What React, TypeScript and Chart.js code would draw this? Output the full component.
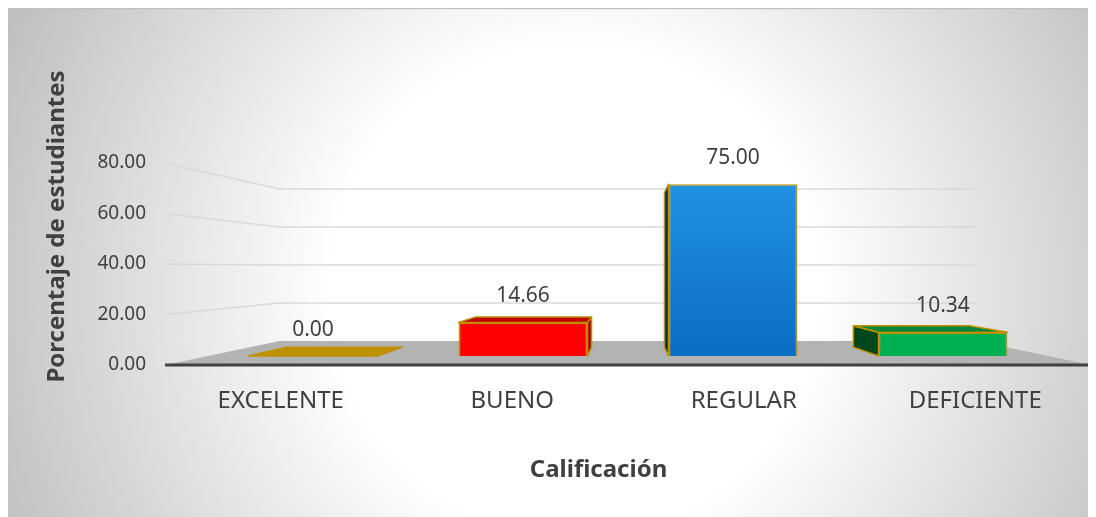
import React, { useEffect, useRef } from "react";
import { Chart, registerables } from "chart.js";

Chart.register(...registerables);

// ---------- data ----------
const categories = ["EXCELENTE", "BUENO", "REGULAR", "DEFICIENTE"];
const values = [0.0, 14.66, 75.0, 10.34];
const yMin = 0;
const yMax = 80;
const yStep = 20;
const yTitle = "Porcentaje de estudiantes";
const xTitle = "Calificación";

// ---------- styles ----------
const frontColors = ["#BF9000", "#FF0000", "#1A86D9", "#00B050"];
const topColors = ["#BF9000", "#C00000", "#0F5E9C", "#00853C"];
const sideColors = ["#7F6000", "#B00000", "#0B3043", "#00461F"];
const edgeColor = "#BF9000";
const textColor = "#404040";
const FONT = "'Noto Sans', 'Open Sans', sans-serif";

const CANVAS_W = 1088;
const CANVAS_H = 509;
const AREA_LEFT = 157;
const AREA_RIGHT = 1083;
const AREA_TOP = 155;
const AREA_BOTTOM = 357;
const VP_Y = 260;
const S_WALL = 0.753;
const S_FRONT = 0.907;
const S_BACK = 0.816;

function poly(ctx: CanvasRenderingContext2D, pts: number[][], fill: string, stroke: string, lw: number) {
  ctx.beginPath();
  ctx.moveTo(pts[0][0], pts[0][1]);
  for (let i = 1; i < pts.length; i++) ctx.lineTo(pts[i][0], pts[i][1]);
  ctx.closePath();
  ctx.fillStyle = fill;
  ctx.fill();
  if (lw > 0) {
    ctx.strokeStyle = stroke;
    ctx.lineWidth = lw;
    ctx.lineJoin = "round";
    ctx.stroke();
  }
}

export default function App() {
  const ref = useRef<HTMLCanvasElement>(null);

  useEffect(() => {
    const canvas = ref.current;
    if (!canvas) return;

    const vpOf = (chart: any) => {
      const a = chart.chartArea;
      return { vx: (a.left + a.right) / 2, vy: VP_Y };
    };

    const threeD = {
      id: "threeD",
      beforeDraw(chart: any) {
        const ctx: CanvasRenderingContext2D = chart.ctx;
        ctx.save();
        const g = ctx.createRadialGradient(567, 282, 0, 567, 282, 640);
        g.addColorStop(0, "#ffffff");
        g.addColorStop(0.38, "#ffffff");
        g.addColorStop(1, "#bdbdbd");
        ctx.fillStyle = g;
        ctx.fillRect(0, 0, chart.width, chart.height);
        ctx.fillStyle = "#c0c0c0";
        ctx.fillRect(0, 0, chart.width, 1.2);
        ctx.restore();
      },
      beforeDatasetsDraw(chart: any) {
        const ctx: CanvasRenderingContext2D = chart.ctx;
        const a = chart.chartArea;
        const ys = chart.scales.y;
        const { vx, vy } = vpOf(chart);
        const P = (px: number, py: number, s: number) => [vx + (px - vx) * s, vy + (py - vy) * s];

        ctx.save();
        // back wall + side wall gridlines
        ctx.strokeStyle = "#d9d9d9";
        ctx.lineWidth = 1.5;
        for (let v = yMin + yStep; v <= yMax; v += yStep) {
          const yf = ys.getPixelForValue(v);
          const p1 = P(a.left, yf, 1);
          const p2 = P(a.left, yf, S_WALL);
          const p3 = P(a.right, yf, S_WALL);
          ctx.beginPath();
          ctx.moveTo(p1[0], p1[1]);
          ctx.lineTo(p2[0], p2[1]);
          ctx.lineTo(p3[0], p3[1]);
          ctx.stroke();
        }
        // floor
        const y0 = ys.getPixelForValue(yMin);
        poly(ctx, [P(a.left, y0, 1), P(a.right, y0, 1), P(a.right, y0, S_WALL), P(a.left, y0, S_WALL)], "#b3b3b3", "#b3b3b3", 0);
        // front axis line
        ctx.strokeStyle = "#404040";
        ctx.lineWidth = 3;
        ctx.beginPath();
        ctx.moveTo(a.left, y0);
        ctx.lineTo(a.right, y0);
        ctx.stroke();

        // bar sides and tops
        const meta = chart.getDatasetMeta(0);
        meta.data.forEach((el: any, i: number) => {
          const { x, y, base, width } = el.getProps(["x", "y", "base", "width"], true);
          const L = x - width / 2;
          const R = x + width / 2;
          const T = Math.min(y, base);
          const B = Math.max(y, base);
          if (B - T > 0.5) {
            if (L > vx) {
              poly(ctx, [P(L, T, S_FRONT), P(L, B, S_FRONT), P(L, B, S_BACK), P(L, T, S_BACK)], sideColors[i], edgeColor, 1.5);
            } else if (R < vx) {
              poly(ctx, [P(R, T, S_FRONT), P(R, B, S_FRONT), P(R, B, S_BACK), P(R, T, S_BACK)], sideColors[i], edgeColor, 1.5);
            }
          }
          if (T > vy) {
            poly(ctx, [P(L, T, S_FRONT), P(R, T, S_FRONT), P(R, T, S_BACK), P(L, T, S_BACK)], topColors[i], edgeColor, 1.5);
          }
        });
        ctx.restore();

        // front faces drawn by Chart.js at the bar depth
        ctx.save();
        ctx.translate(vx, vy);
        ctx.scale(S_FRONT, S_FRONT);
        ctx.translate(-vx, -vy);
      },
      afterDatasetsDraw(chart: any) {
        const ctx: CanvasRenderingContext2D = chart.ctx;
        ctx.restore();
        const { vx, vy } = vpOf(chart);
        const P = (px: number, py: number, s: number) => [vx + (px - vx) * s, vy + (py - vy) * s];
        const meta = chart.getDatasetMeta(0);
        ctx.save();
        ctx.font = `21px ${FONT}`;
        ctx.fillStyle = textColor;
        ctx.textAlign = "center";
        ctx.textBaseline = "middle";
        meta.data.forEach((el: any, i: number) => {
          const { x, y, base } = el.getProps(["x", "y", "base"], true);
          const T = Math.min(y, base);
          const p = P(x, T, S_FRONT);
          ctx.fillText(values[i].toFixed(2), p[0], p[1] - 26);
        });
        ctx.restore();
      },
      afterDraw(chart: any) {
        const ctx: CanvasRenderingContext2D = chart.ctx;
        ctx.save();
        ctx.font = `bold 24px ${FONT}`;
        ctx.fillStyle = textColor;
        ctx.textAlign = "center";
        ctx.textBaseline = "middle";
        ctx.fillText(xTitle, 590.5, 462);
        ctx.translate(49, 218.5);
        ctx.rotate(-Math.PI / 2);
        ctx.fillText(yTitle, 0, 0);
        ctx.restore();
      },
    };

    const chart = new Chart(canvas, {
      type: "bar",
      data: {
        labels: categories,
        datasets: [
          {
            data: values,
            backgroundColor: (c: any) => {
              const i = c.dataIndex;
              if (i === 2 && c.chart.chartArea) {
                const a = c.chart.chartArea;
                const g = c.chart.ctx.createLinearGradient(0, a.top, 0, a.bottom);
                g.addColorStop(0, "#2393E4");
                g.addColorStop(1, "#0A6EC2");
                return g;
              }
              return frontColors[i];
            },
            borderColor: edgeColor,
            borderWidth: 1.8,
            categoryPercentage: 1,
            barPercentage: 0.614,
          },
        ],
      },
      options: {
        responsive: false,
        animation: false,
        devicePixelRatio: 1,
        layout: { padding: { top: AREA_TOP, right: CANVAS_W - AREA_RIGHT, left: 0, bottom: 0 } },
        plugins: { legend: { display: false }, tooltip: { enabled: false } },
        scales: {
          x: {
            grid: { display: false, drawTicks: false },
            border: { display: false },
            ticks: { font: { family: FONT, size: 24 }, color: textColor, padding: 22, maxRotation: 0 },
            afterFit: (s: any) => {
              s.height = CANVAS_H - AREA_BOTTOM;
            },
          },
          y: {
            min: yMin,
            max: yMax,
            grid: { display: false, drawTicks: false },
            border: { display: false },
            ticks: {
              stepSize: yStep,
              font: { family: FONT, size: 19 },
              color: textColor,
              padding: 19,
              callback: (v: any) => Number(v).toFixed(2),
            },
            afterFit: (s: any) => {
              s.width = AREA_LEFT;
            },
          },
        },
      },
      plugins: [threeD],
    });

    return () => chart.destroy();
  }, []);

  return <canvas ref={ref} width={CANVAS_W} height={CANVAS_H} style={{ display: "block" }} />;
}
